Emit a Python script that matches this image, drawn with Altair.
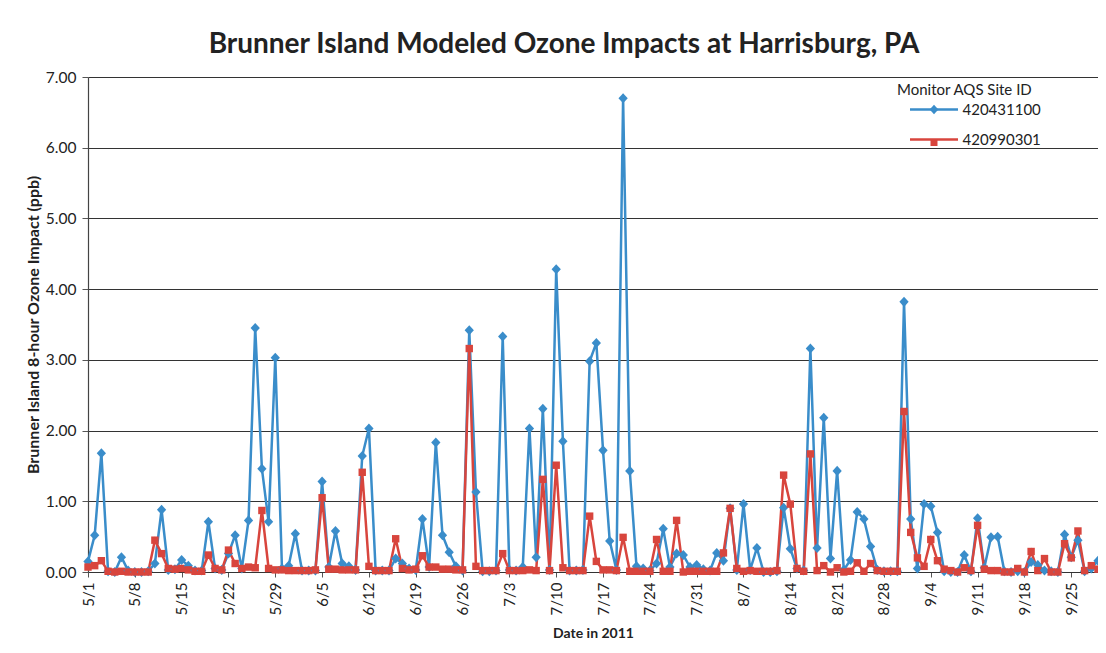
import altair as alt
import pandas as pd

# ---- data ----
series_names = ["420431100", "420990301"]
series_colors = ["#3A8DCA", "#D8453D"]

blue = [0.15, 0.52, 1.68, 0.01, 0.00, 0.21, 0.02, 0.00, 0.00, 0.01,
        0.12, 0.88, 0.03, 0.04, 0.17, 0.09, 0.02, 0.02, 0.71, 0.05,
        0.03, 0.26, 0.52, 0.05, 0.73, 3.45, 1.46, 0.71, 3.03, 0.05,
        0.09, 0.54, 0.02, 0.02, 0.02, 1.28, 0.07, 0.58, 0.12, 0.08,
        0.03, 1.64, 2.03, 0.02, 0.02, 0.02, 0.19, 0.12, 0.05, 0.03,
        0.75, 0.07, 1.83, 0.52, 0.28, 0.08, 0.02, 3.42, 1.13, 0.01,
        0.01, 0.02, 3.33, 0.03, 0.02, 0.07, 2.03, 0.21, 2.31, 0.03,
        4.28, 1.85, 0.02, 0.02, 0.03, 2.98, 3.24, 1.72, 0.44, 0.03,
        6.70, 1.43, 0.08, 0.05, 0.02, 0.12, 0.61, 0.07, 0.26, 0.24,
        0.07, 0.10, 0.04, 0.02, 0.27, 0.16, 0.90, 0.03, 0.96, 0.03,
        0.34, 0.00, 0.00, 0.01, 0.91, 0.33, 0.05, 0.02, 3.16, 0.34,
        2.18, 0.19, 1.43, 0.03, 0.17, 0.85, 0.75, 0.36, 0.03, 0.01,
        0.01, 0.01, 3.82, 0.75, 0.05, 0.96, 0.93, 0.56, 0.01, 0.00,
        0.00, 0.24, 0.01, 0.76, 0.06, 0.49, 0.50, 0.01, 0.00, 0.01,
        0.00, 0.14, 0.10, 0.02, 0.01, 0.00, 0.53, 0.21, 0.45, 0.01,
        0.05, 0.16]

red = [0.07, 0.09, 0.16, 0.01, 0.00, 0.01, 0.00, 0.00, 0.00, 0.00,
       0.45, 0.26, 0.05, 0.04, 0.05, 0.03, 0.01, 0.01, 0.24, 0.05,
       0.03, 0.31, 0.12, 0.05, 0.07, 0.06, 0.87, 0.05, 0.03, 0.03,
       0.02, 0.02, 0.02, 0.02, 0.03, 1.05, 0.04, 0.04, 0.03, 0.03,
       0.03, 1.41, 0.08, 0.02, 0.02, 0.02, 0.47, 0.05, 0.03, 0.04,
       0.23, 0.07, 0.07, 0.04, 0.04, 0.03, 0.03, 3.16, 0.08, 0.02,
       0.02, 0.02, 0.26, 0.02, 0.02, 0.02, 0.03, 0.02, 1.31, 0.02,
       1.51, 0.06, 0.02, 0.02, 0.02, 0.79, 0.15, 0.03, 0.03, 0.02,
       0.49, 0.01, 0.01, 0.01, 0.01, 0.46, 0.01, 0.01, 0.73, 0.00,
       0.01, 0.01, 0.01, 0.01, 0.01, 0.27, 0.90, 0.05, 0.01, 0.02,
       0.01, 0.01, 0.01, 0.02, 1.37, 0.96, 0.05, 0.01, 1.67, 0.02,
       0.09, 0.00, 0.06, 0.00, 0.01, 0.13, 0.01, 0.12, 0.02, 0.01,
       0.01, 0.01, 2.27, 0.56, 0.20, 0.08, 0.46, 0.16, 0.04, 0.02,
       0.00, 0.06, 0.02, 0.66, 0.04, 0.02, 0.02, 0.00, 0.00, 0.05,
       0.00, 0.29, 0.02, 0.19, 0.00, 0.00, 0.40, 0.20, 0.58, 0.02,
       0.09, 0.04]

tick_labels = ["5/1", "5/8", "5/15", "5/22", "5/29", "6/5", "6/12", "6/19",
               "6/26", "7/3", "7/10", "7/17", "7/24", "7/31", "8/7", "8/14",
               "8/21", "8/28", "9/4", "9/11", "9/18", "9/25"]
y_ticks = [0, 1, 2, 3, 4, 5, 6, 7]

# ---- table ----
dates = pd.date_range("2011-05-01", periods=len(blue), freq="D")
date_str = [d.strftime("%Y-%m-%dT00:00:00") for d in dates]
rows = []
for i, ds in enumerate(date_str):
    rows.append({"date": ds, "series": series_names[0], "value": blue[i]})
    rows.append({"date": ds, "series": series_names[1], "value": red[i]})
df = pd.DataFrame(rows)

tick_values = [alt.DateTime(year=2011, month=int(t.split("/")[0]), date=int(t.split("/")[1]))
               for t in tick_labels]

FONT = "Lato"
TXT = "#222222"

x_enc = alt.X(
    "date:T",
    scale=alt.Scale(domain=[alt.DateTime(year=2011, month=5, date=1),
                            alt.DateTime(year=2011, month=9, date=29)]),
    axis=alt.Axis(values=tick_values, format="%-m/%-d", labelAngle=-90,
                  title="Date in 2011", titleFont=FONT, titleFontSize=14,
                  titleFontWeight="bold", titleColor=TXT, titlePadding=12,
                  labelFont=FONT, labelFontSize=15, labelColor=TXT,
                  labelPadding=5, tickSize=5, tickColor="#555555",
                  domainColor="#333333", domainWidth=1, grid=False,
                  labelOverlap=False),
)
y_enc = alt.Y(
    "value:Q",
    scale=alt.Scale(domain=[0, 7], nice=False, zero=True),
    axis=alt.Axis(values=y_ticks, format=".2f",
                  title="Brunner Island 8-hour Ozone Impact (ppb)",
                  titleFont=FONT, titleFontSize=16, titleFontWeight="bold",
                  titleColor=TXT, titlePadding=4,
                  labelFont=FONT, labelFontSize=15.5, labelColor=TXT,
                  labelPadding=6, tickSize=6, tickColor="#555555",
                  domainColor="#444444", domainWidth=1.2,
                  grid=True, gridColor="#333333", gridWidth=1),
)

color_scale = alt.Scale(domain=series_names, range=series_colors)
shape_scale = alt.Scale(domain=series_names,
                        range=["M0,-1.35L1.25,0L0,1.35L-1.25,0Z",
                               "M-1,-1H1V1H-1Z"])

common_legend = dict(orient="none", legendX=809, legendY=6,
                     title="Monitor AQS Site ID", titleFont=FONT,
                     titleFontSize=15, titleFontWeight="normal",
                     titlePadding=4, labelFont=FONT, labelFontSize=15,
                     symbolOffset=29.5, rowPadding=14,
                     padding=0, symbolStrokeWidth=2.5)

line_legend = alt.Legend(titleColor=TXT, labelColor=TXT, labelOffset=21,
                         symbolType="M-4.8,0H4.8", symbolSize=100,
                         **common_legend)
point_legend = alt.Legend(titleColor="transparent", labelColor="transparent",
                          labelExpr="''", labelOffset=21,
                          symbolSize=49, symbolStrokeColor="transparent",
                          **common_legend)

base = alt.Chart(df)

lines = base.mark_line(strokeWidth=2.5).encode(
    x=x_enc, y=y_enc,
    color=alt.Color("series:N", scale=color_scale, legend=line_legend),
)
points = base.mark_point(filled=True, size=55, opacity=1, strokeWidth=0).encode(
    x=x_enc, y=y_enc,
    color=alt.Color("series:N", scale=color_scale, legend=point_legend),
    shape=alt.Shape("series:N", scale=shape_scale, legend=point_legend),
)

chart = (
    alt.layer(lines, points)
    .resolve_legend(color="independent", shape="independent")
    .properties(
        width=1010, height=495,
        title=alt.TitleParams(text="Brunner Island Modeled Ozone Impacts at Harrisburg, PA",
                              font=FONT, fontSize=28, fontWeight="bold",
                              color=TXT, anchor="middle", dx=-29, offset=11,
                              frame="group"),
        autosize=alt.AutoSizeParams(type="none"),
        padding={"left": 80, "top": 69, "right": 0, "bottom": 70},
        background="white",
    )
    .configure_view(stroke=None)
)

chart.save("out.html", embed_options={"renderer": "svg", "actions": False})
